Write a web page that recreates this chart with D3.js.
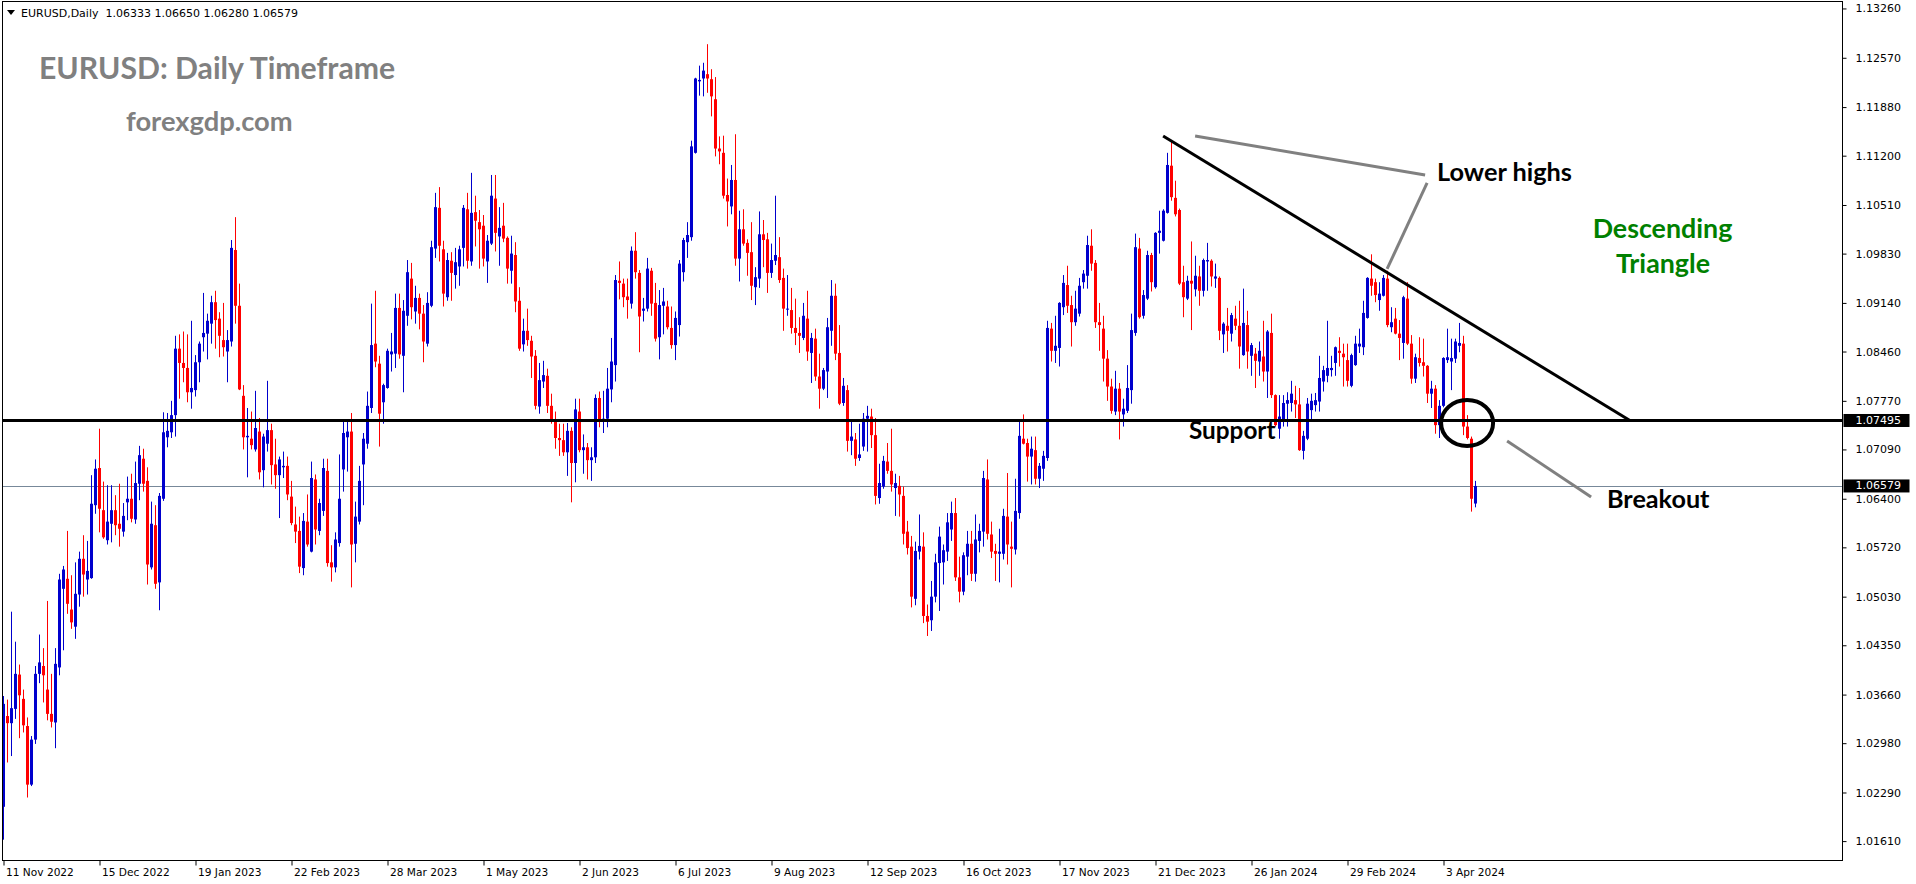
<!DOCTYPE html>
<html><head><meta charset="utf-8">
<script src="https://cdn.jsdelivr.net/npm/d3@7"></script>
<style>html,body{margin:0;padding:0;background:#fff;overflow:hidden}</style>
</head><body><svg id="c" width="1916" height="884"></svg>
<script>
// ---------------- DATA (EURUSD Daily) ----------------
const opens=[1.0209,1.0336,1.0326,1.0346,1.0394,1.0360,1.0322,1.0240,1.0303,1.0395,
1.0406,1.0373,1.0339,1.0327,1.0404,1.0514,1.0528,1.0485,1.0461,1.0506,
1.0556,1.0527,1.0529,1.0631,1.0683,1.0624,1.0582,1.0605,1.0624,1.0605,
1.0594,1.0635,1.0640,1.0611,1.0661,1.0696,1.0665,1.0544,1.0603,1.0523,
1.0640,1.0726,1.0733,1.0757,1.0850,1.0830,1.0823,1.0789,1.0792,1.0831,
1.0866,1.0871,1.0885,1.0915,1.0892,1.0862,1.0846,1.0860,1.0988,1.0910,
1.0784,1.0726,1.0724,1.0709,1.0734,1.0680,1.0717,1.0736,1.0688,1.0673,
1.0684,1.0686,1.0643,1.0604,1.0595,1.0543,1.0608,1.0566,1.0667,1.0595,
1.0623,1.0679,1.0551,1.0544,1.0578,1.0681,1.0726,1.0734,1.0577,1.0608,
1.0688,1.0717,1.0767,1.0857,1.0829,1.0775,1.0795,1.0842,1.0843,1.0907,
1.0840,1.0896,1.0948,1.0902,1.0921,1.0899,1.0857,1.0910,1.0990,1.1047,
1.0989,1.0922,1.0973,1.0953,1.0965,1.0991,1.1045,1.0972,1.1041,1.1027,
1.1022,1.0972,1.0997,1.1060,1.1007,1.1022,1.1005,1.0959,1.0981,1.0917,
1.0856,1.0875,1.0861,1.0840,1.0769,1.0804,1.0812,1.0770,1.0750,1.0725,
1.0722,1.0705,1.0735,1.0690,1.0762,1.0708,1.0712,1.0694,1.0698,1.0781,
1.0749,1.0752,1.0793,1.0827,1.0945,1.0941,1.0923,1.0913,1.0987,1.0956,
1.0903,1.0906,1.0959,1.0914,1.0866,1.0910,1.0909,1.0879,1.0855,1.0883,
1.0957,1.0999,1.1006,1.1124,1.1224,1.1228,1.1234,1.1227,1.1199,1.1130,
1.1124,1.1065,1.1049,1.1086,1.0976,1.1017,1.0998,1.0985,1.0936,1.0948,
1.1010,1.1003,1.0956,1.0973,1.0978,1.0949,1.0905,1.0904,1.0879,1.0872,
1.0865,1.0892,1.0844,1.0864,1.0811,1.0794,1.0818,1.0875,1.0924,1.0844,
1.0774,1.0792,1.0721,1.0723,1.0697,1.0713,1.0752,1.0755,1.0729,1.0641,
1.0657,1.0692,1.0679,1.0655,1.0658,1.0644,1.0594,1.0573,1.0500,1.0566,
1.0573,1.0476,1.0470,1.0503,1.0550,1.0551,1.0566,1.0597,1.0620,1.0530,
1.0510,1.0559,1.0577,1.0535,1.0581,1.0594,1.0667,1.0590,1.0567,1.0563,
1.0563,1.0615,1.0573,1.0569,1.0620,1.0724,1.0718,1.0699,1.0708,1.0668,
1.0682,1.0697,1.0878,1.0847,1.0851,1.0908,1.0939,1.0911,1.0887,1.0899,
1.0943,1.0952,1.0994,1.0970,1.0887,1.0878,1.0836,1.0797,1.0762,1.0794,
1.0758,1.0763,1.0792,1.0872,1.0990,1.0896,1.0920,1.0981,1.0936,1.1012,
1.1001,1.1040,1.1106,1.1061,1.1044,1.0943,1.0920,1.0945,1.0933,1.0951,
1.0931,1.0972,1.0973,1.0948,1.0949,1.0870,1.0882,1.0871,1.0892,1.0882,
1.0841,1.0883,1.0840,1.0843,1.0832,1.0839,1.0818,1.0872,1.0785,1.0738,
1.0748,1.0773,1.0774,1.0778,1.0772,1.0707,1.0724,1.0764,1.0771,1.0776,
1.0804,1.0812,1.0820,1.0830,1.0847,1.0843,1.0834,1.0798,1.0827,1.0853,
1.0852,1.0893,1.0948,1.0943,1.0918,1.0924,1.0948,1.0880,1.0892,1.0871,
1.0858,1.0920,1.0857,1.0808,1.0837,1.0831,1.0826,1.0787,1.0794,1.0743,
1.0770,1.0834,1.0832,1.0836,1.0854,1.0857,1.0741,1.0724,1.06333];

const highs=[1.0364,1.0359,1.0482,1.0440,1.0408,1.0373,1.0334,1.0308,1.0406,1.0450,
1.0431,1.0497,1.0395,1.0431,1.0535,1.0546,1.0595,1.0533,1.0551,1.0566,
1.0589,1.0581,1.0673,1.0695,1.0738,1.0664,1.0659,1.0659,1.0645,1.0661,
1.0634,1.0671,1.0675,1.0692,1.0714,1.0710,1.0684,1.0636,1.0631,1.0648,
1.0761,1.0760,1.0777,1.0868,1.0870,1.0874,1.0870,1.0889,1.0841,1.0860,
1.0928,1.0899,1.0924,1.0931,1.0901,1.0914,1.0876,1.1002,1.1034,1.0941,
1.0799,1.0767,1.0762,1.0791,1.0753,1.0731,1.0805,1.0745,1.0724,1.0699,
1.0706,1.0699,1.0665,1.0629,1.0615,1.0620,1.0646,1.0692,1.0674,1.0640,
1.0696,1.0696,1.0575,1.0593,1.0702,1.0750,1.0750,1.0760,1.0636,1.0686,
1.0732,1.0790,1.0913,1.0931,1.0840,1.0801,1.0850,1.0872,1.0927,1.0927,
1.0918,1.0974,1.0970,1.0938,1.0927,1.0911,1.0929,1.1001,1.1068,1.1076,
1.1001,1.0984,1.0985,1.0991,1.0994,1.1051,1.1068,1.1096,1.1064,1.1044,
1.1037,1.1009,1.1093,1.1093,1.1048,1.1054,1.1007,1.1008,1.0999,1.0936,
1.0892,1.0906,1.0868,1.0848,1.0830,1.0833,1.0822,1.0787,1.0762,1.0745,
1.0745,1.0746,1.0740,1.0780,1.0780,1.0730,1.0718,1.0712,1.0786,1.0790,
1.0791,1.0823,1.0865,1.0953,1.0972,1.0948,1.0948,1.0993,1.1013,1.0960,
1.0921,1.0977,1.0963,1.0942,1.0932,1.0935,1.0917,1.0909,1.0902,1.0974,
1.1005,1.1027,1.1141,1.1229,1.1246,1.1250,1.1276,1.1241,1.1230,1.1147,
1.1148,1.1088,1.1107,1.1150,1.1043,1.1045,1.1003,1.1027,1.0964,1.1042,
1.1030,1.1012,1.0997,1.1064,1.1006,1.0962,1.0953,1.0935,1.0920,1.0894,
1.0914,1.0931,1.0872,1.0878,1.0843,1.0823,1.0893,1.0946,1.0941,1.0883,
1.0809,1.0799,1.0749,1.0732,1.0745,1.0760,1.0770,1.0766,1.0753,1.0689,
1.0700,1.0718,1.0738,1.0675,1.0672,1.0657,1.0609,1.0588,1.0580,1.0618,
1.0593,1.0492,1.0525,1.0563,1.0601,1.0576,1.0620,1.0636,1.0641,1.0559,
1.0565,1.0595,1.0595,1.0618,1.0605,1.0679,1.0695,1.0608,1.0577,1.0598,
1.0626,1.0676,1.0608,1.0668,1.0749,1.0758,1.0724,1.0727,1.0727,1.0690,
1.0707,1.0889,1.0886,1.0896,1.0915,1.0953,1.0966,1.0924,1.0931,1.0949,
1.0960,1.1008,1.1017,1.0974,1.0914,1.0896,1.0848,1.0808,1.0819,1.0802,
1.0780,1.0827,1.0899,1.1011,1.1005,1.0932,1.0987,1.0984,1.1013,1.1043,
1.1045,1.1124,1.1139,1.1085,1.1046,1.0966,1.0952,1.1000,1.0980,1.0966,
1.0976,1.0998,1.0975,1.0969,1.0951,1.0887,1.0907,1.0900,1.0910,1.0917,
1.0934,1.0903,1.0858,1.0851,1.0860,1.0889,1.0876,1.0899,1.0786,1.0785,
1.0785,1.0789,1.0805,1.0798,1.0795,1.0735,1.0781,1.0787,1.0788,1.0840,
1.0826,1.0889,1.0840,1.0853,1.0866,1.0857,1.0857,1.0843,1.0868,1.0878,
1.0917,1.0950,1.0982,1.0948,1.0943,1.0953,1.0959,1.0908,1.0907,1.0890,
1.0924,1.0943,1.0869,1.0843,1.0866,1.0864,1.0827,1.0805,1.0799,1.0778,
1.0838,1.0878,1.0864,1.0864,1.0886,1.0868,1.0757,1.0727,1.06650];

const lows=[1.0163,1.0271,1.0280,1.0332,1.0305,1.0313,1.0222,1.0238,1.0297,1.0382,
1.0355,1.0330,1.0320,1.0291,1.0393,1.0428,1.0479,1.0458,1.0444,1.0489,
1.0503,1.0506,1.0528,1.0619,1.0593,1.0584,1.0576,1.0579,1.0589,1.0573,
1.0587,1.0610,1.0607,1.0605,1.0638,1.0650,1.0520,1.0541,1.0514,1.0484,
1.0637,1.0712,1.0725,1.0727,1.0780,1.0803,1.0775,1.0766,1.0783,1.0803,
1.0846,1.0835,1.0857,1.0850,1.0838,1.0839,1.0803,1.0853,1.0885,1.0792,
1.0709,1.0670,1.0709,1.0706,1.0667,1.0656,1.0706,1.0660,1.0654,1.0613,
1.0669,1.0638,1.0603,1.0578,1.0536,1.0533,1.0573,1.0565,1.0576,1.0589,
1.0616,1.0545,1.0524,1.0537,1.0573,1.0650,1.0678,1.0516,1.0551,1.0604,
1.0631,1.0710,1.0760,1.0824,1.0713,1.0745,1.0794,1.0818,1.0823,1.0836,
1.0789,1.0882,1.0891,1.0885,1.0877,1.0831,1.0853,1.0908,1.0977,1.0972,
1.0909,1.0917,1.0917,1.0934,1.0938,1.0965,1.0962,1.0966,1.0993,1.0962,
1.0965,1.0942,1.0995,1.0986,1.0966,1.0999,1.0941,1.0941,1.0901,1.0847,
1.0846,1.0854,1.0809,1.0765,1.0759,1.0795,1.0760,1.0745,1.0710,1.0700,
1.0700,1.0672,1.0635,1.0663,1.0705,1.0675,1.0667,1.0665,1.0690,1.0740,
1.0732,1.0740,1.0775,1.0804,1.0919,1.0908,1.0892,1.0906,1.0948,1.0845,
1.0888,1.0902,1.0896,1.0860,1.0835,1.0870,1.0877,1.0850,1.0834,1.0867,
1.0944,1.0977,1.1001,1.1123,1.1204,1.1203,1.1208,1.1175,1.1119,1.1108,
1.1060,1.1021,1.1038,1.0966,1.0944,1.0994,1.0952,1.0918,1.0911,1.0935,
1.0964,1.0928,1.0949,1.0967,1.0942,1.0875,1.0896,1.0871,1.0855,1.0844,
1.0862,1.0833,1.0802,1.0805,1.0766,1.0792,1.0781,1.0854,1.0834,1.0771,
1.0770,1.0706,1.0701,1.0686,1.0693,1.0707,1.0706,1.0711,1.0632,1.0633,
1.0654,1.0675,1.0650,1.0616,1.0615,1.0576,1.0562,1.0488,1.0491,1.0555,
1.0466,1.0448,1.0455,1.0495,1.0483,1.0520,1.0553,1.0581,1.0525,1.0495,
1.0505,1.0533,1.0525,1.0524,1.0565,1.0573,1.0583,1.0557,1.0525,1.0523,
1.0555,1.0548,1.0516,1.0562,1.0612,1.0716,1.0664,1.0660,1.0660,1.0655,
1.0665,1.0693,1.0832,1.0830,1.0825,1.0897,1.0900,1.0853,1.0882,1.0895,
1.0934,1.0934,1.0959,1.0879,1.0847,1.0804,1.0777,1.0759,1.0757,1.0723,
1.0741,1.0760,1.0773,1.0868,1.0892,1.0892,1.0918,1.0930,1.0934,1.0983,
1.1000,1.1039,1.1057,1.1035,1.0939,1.0894,1.0918,1.0876,1.0923,1.0910,
1.0923,1.0931,1.0937,1.0935,1.0862,1.0844,1.0846,1.0860,1.0876,1.0822,
1.0840,1.0822,1.0812,1.0795,1.0812,1.0804,1.0781,1.0781,1.0741,1.0724,
1.0741,1.0741,1.0762,1.0753,1.0707,1.0695,1.0722,1.0750,1.0762,1.0762,
1.0790,1.0803,1.0811,1.0812,1.0825,1.0797,1.0797,1.0796,1.0826,1.0844,
1.0841,1.0892,1.0924,1.0915,1.0903,1.0923,1.0880,1.0873,1.0870,1.0834,
1.0836,1.0855,1.0801,1.0802,1.0825,1.0811,1.0774,1.0767,1.0731,1.0725,
1.0768,1.0830,1.0792,1.0830,1.0845,1.0729,1.0723,1.0622,1.06280];

const closes=[1.0353,1.0326,1.0347,1.0395,1.0365,1.0323,1.0240,1.0303,1.0395,1.0411,
1.0393,1.0339,1.0328,1.0409,1.0527,1.0541,1.0493,1.0467,1.0507,1.0556,
1.0534,1.0539,1.0633,1.0682,1.0626,1.0586,1.0608,1.0624,1.0603,1.0598,
1.0616,1.0640,1.0612,1.0662,1.0701,1.0661,1.0548,1.0605,1.0521,1.0644,
1.0733,1.0735,1.0757,1.0850,1.0830,1.0823,1.0789,1.0795,1.0831,1.0857,
1.0872,1.0889,1.0915,1.0890,1.0868,1.0852,1.0862,1.0991,1.0910,1.0793,
1.0726,1.0728,1.0715,1.0739,1.0677,1.0727,1.0736,1.0687,1.0673,1.0695,
1.0686,1.0646,1.0606,1.0594,1.0545,1.0609,1.0576,1.0669,1.0597,1.0634,
1.0683,1.0550,1.0544,1.0583,1.0640,1.0732,1.0734,1.0576,1.0615,1.0665,
1.0724,1.0770,1.0855,1.0832,1.0759,1.0799,1.0847,1.0846,1.0907,1.0842,
1.0903,1.0957,1.0908,1.0921,1.0899,1.0860,1.0914,1.0992,1.1048,1.0994,
1.0927,1.0974,1.0956,1.0971,1.0989,1.1047,1.0973,1.1040,1.1029,1.1017,
1.0976,1.1001,1.1064,1.1012,1.1019,1.1004,1.0962,1.0983,1.0916,1.0850,
1.0875,1.0862,1.0839,1.0770,1.0806,1.0813,1.0770,1.0750,1.0725,1.0722,
1.0705,1.0735,1.0690,1.0765,1.0708,1.0712,1.0694,1.0698,1.0781,1.0749,
1.0752,1.0794,1.0832,1.0946,1.0942,1.0922,1.0918,1.0987,1.0957,1.0895,
1.0906,1.0962,1.0913,1.0864,1.0911,1.0916,1.0880,1.0855,1.0893,1.0969,
1.1002,1.1009,1.1133,1.1228,1.1226,1.1239,1.1228,1.1203,1.1130,1.1126,
1.1064,1.1056,1.1086,1.0976,1.1017,1.0997,1.0984,1.0938,1.0950,1.1010,
1.1002,1.0956,1.0974,1.0981,1.0946,1.0906,1.0906,1.0879,1.0872,1.0868,
1.0896,1.0846,1.0865,1.0811,1.0794,1.0820,1.0880,1.0924,1.0843,1.0773,
1.0798,1.0721,1.0727,1.0696,1.0702,1.0752,1.0756,1.0729,1.0644,1.0662,
1.0693,1.0679,1.0660,1.0662,1.0646,1.0591,1.0571,1.0503,1.0567,1.0574,
1.0476,1.0468,1.0503,1.0551,1.0587,1.0568,1.0607,1.0620,1.0530,1.0510,
1.0561,1.0577,1.0535,1.0583,1.0595,1.0669,1.0591,1.0566,1.0563,1.0566,
1.0616,1.0576,1.0570,1.0623,1.0728,1.0717,1.0699,1.0710,1.0668,1.0686,
1.0700,1.0879,1.0847,1.0854,1.0914,1.0942,1.0910,1.0887,1.0906,1.0938,
1.0955,1.0995,1.0969,1.0887,1.0883,1.0836,1.0797,1.0763,1.0794,1.0762,
1.0766,1.0795,1.0876,1.0992,1.0894,1.0925,1.0981,1.0943,1.1012,1.1015,
1.1043,1.1107,1.1062,1.1038,1.0941,1.0922,1.0945,1.0941,1.0952,1.0931,
1.0974,1.0974,1.0951,1.0951,1.0875,1.0885,1.0875,1.0897,1.0882,1.0853,
1.0886,1.0846,1.0855,1.0833,1.0847,1.0818,1.0874,1.0785,1.0743,1.0755,
1.0774,1.0778,1.0787,1.0772,1.0708,1.0728,1.0773,1.0777,1.0778,1.0809,
1.0820,1.0823,1.0823,1.0852,1.0844,1.0838,1.0805,1.0841,1.0857,1.0857,
1.0900,1.0949,1.0938,1.0925,1.0927,1.0949,1.0883,1.0887,1.0871,1.0865,
1.0922,1.0857,1.0808,1.0838,1.0830,1.0826,1.0787,1.0794,1.0743,1.0770,
1.0837,1.0838,1.0837,1.0860,1.0858,1.0741,1.0725,1.0640,1.06579];

const timeTickIndex=[0,24,48,72,96,120,144,168,192,216,240,264,288,312,336,360];
const timeTickLabels=["11 Nov 2022","15 Dec 2022","19 Jan 2023","22 Feb 2023","28 Mar 2023","1 May 2023","2 Jun 2023","6 Jul 2023","9 Aug 2023","12 Sep 2023","16 Oct 2023","17 Nov 2023","21 Dec 2023","26 Jan 2024","29 Feb 2024","3 Apr 2024"];
const priceTicks=[1.13260,1.12570,1.11880,1.11200,1.10510,1.09830,1.09140,1.08460,1.07770,1.07090,1.06400,1.05720,1.05030,1.04350,1.03660,1.02980,1.02290,1.01610];
const supportLevel=1.07495;
const bidPrice=1.06579;
const headerText="EURUSD,Daily  1.06333 1.06650 1.06280 1.06579";
// annotation anchors in data space [bar index, price]
const trendLine=[[289.9,1.11476],[406.6,1.07495]];
const pointerHighs1=[[297.9,1.11476],[355.4,1.10930]];
const pointerHighs2=[[355.9,1.10818],[345.9,1.09615]];
const pointerBreakout=[[375.9,1.07209],[396.9,1.06425]];
const breakoutCircle=[365.9,1.07460];

// ---------------- DRAWING ----------------
const W=1916,H=884;
const F={l:2.5,t:1.5,r:1842.5,b:860.5};
const svg=d3.select('#c');
svg.append('rect').attr('width',W).attr('height',H).attr('fill','#fff');

const x=d3.scaleLinear().domain([0,368]).range([3.5,1475.5]);
const y=d3.scaleLinear().domain([1.01610,1.13260]).range([841.1,8.45]);

svg.append('defs').append('clipPath').attr('id','plot')
  .append('rect').attr('x',F.l).attr('y',F.t).attr('width',F.r-F.l).attr('height',F.b-F.t);
const plot=svg.append('g').attr('clip-path','url(#plot)');

// bid line (behind candles)
plot.append('line').attr('x1',F.l).attr('x2',F.r).attr('y1',Math.round(y(bidPrice))+0.5).attr('y2',Math.round(y(bidPrice))+0.5)
  .attr('stroke','#778899').attr('stroke-width',1);

const bars=d3.range(closes.length).map(i=>({i,o:opens[i],h:highs[i],l:lows[i],c:closes[i]}));
const UP='#0000cd',DN='#ff0000';
plot.append('g').selectAll('rect').data(bars).join('rect')
  .attr('x',d=>x(d.i)-0.5).attr('width',1)
  .attr('y',d=>y(d.h)).attr('height',d=>Math.max(1,y(d.l)-y(d.h)))
  .attr('fill',d=>d.c>=d.o?UP:DN);
plot.append('g').selectAll('rect').data(bars).join('rect')
  .attr('x',d=>x(d.i)-1.5).attr('width',3)
  .attr('y',d=>y(Math.max(d.o,d.c))).attr('height',d=>Math.max(1,Math.abs(y(d.o)-y(d.c))))
  .attr('fill',d=>d.c>=d.o?UP:DN);

// support line
plot.append('line').attr('x1',F.l).attr('x2',F.r).attr('y1',y(supportLevel)).attr('y2',y(supportLevel))
  .attr('stroke','#000').attr('stroke-width',3);

// trend line & pointers
const seg=(pts,color,w)=>plot.append('line')
  .attr('x1',x(pts[0][0])).attr('y1',y(pts[0][1])).attr('x2',x(pts[1][0])).attr('y2',y(pts[1][1]))
  .attr('stroke',color).attr('stroke-width',w);
seg(trendLine,'#000',3);
seg(pointerHighs1,'#808080',3);
seg(pointerHighs2,'#808080',3);
seg(pointerBreakout,'#808080',3);
plot.append('ellipse').attr('cx',x(breakoutCircle[0])).attr('cy',y(breakoutCircle[1]))
  .attr('rx',26).attr('ry',23).attr('fill','none').attr('stroke','#000').attr('stroke-width',4);

// texts
const ann=(t,px,py,size,color,anchor)=>svg.append('text').text(t).attr('x',px).attr('y',py)
  .attr('font-family','Lato, "Open Sans", sans-serif').attr('font-weight',700).attr('font-size',size)
  .attr('fill',color).attr('text-anchor',anchor||'start');
ann('EURUSD: Daily Timeframe',39,79,30.2,'#808080');
ann('forexgdp.com',126,131,27.3,'#808080');
ann('Lower highs',1437,181,25.3,'#000');
ann('Descending',1662.5,238,26.8,'#008000','middle');
ann('Triangle',1663,273,26.8,'#008000','middle');
ann('Support',1189,439,24.3,'#000');
ann('Breakout',1607,508,25.2,'#000');

// header
svg.append('path').attr('d','M7,10 L15,10 L11,15 Z').attr('fill','#000');
svg.append('text').attr('x',21).attr('y',17).attr('xml:space','preserve').style('white-space','pre')
  .attr('font-family','"DejaVu Sans", sans-serif').attr('font-size',11).attr('fill','#000').text(headerText);

// frame
svg.append('rect').attr('x',F.l).attr('y',F.t).attr('width',F.r-F.l).attr('height',F.b-F.t)
  .attr('fill','none').attr('stroke','#000').attr('stroke-width',1);

// price axis
const axR=d3.axisRight(y).tickValues(priceTicks).tickSize(4).tickPadding(9).tickFormat(d3.format('.5f'));
const gR=svg.append('g').attr('transform',`translate(${F.r},0)`).call(axR);
gR.select('.domain').remove();
gR.selectAll('text').attr('font-family','"DejaVu Sans", sans-serif').attr('font-size',11).attr('fill','#000');
gR.selectAll('line').attr('stroke','#000');

// highlighted price labels
[[supportLevel],[bidPrice]].forEach(([v])=>{
  const g=svg.append('g').attr('transform',`translate(${F.r},${y(v)})`);
  g.append('rect').attr('x',1).attr('y',-6.5).attr('width',66).attr('height',13).attr('fill','#000');
  g.append('text').attr('x',13).attr('dy','0.32em').text(d3.format('.5f')(v))
    .attr('font-family','"DejaVu Sans", sans-serif').attr('font-size',11).attr('fill','#fff');
});

// time axis
const axB=d3.axisBottom(x).tickValues(timeTickIndex).tickSize(5).tickFormat((d,k)=>timeTickLabels[k]);
const gB=svg.append('g').attr('transform',`translate(0,${F.b})`).call(axB);
gB.select('.domain').remove();
gB.selectAll('line').attr('stroke','#000');
gB.selectAll('text').attr('text-anchor','start').attr('x',2).attr('y',8).attr('dy','0.71em')
  .attr('font-family','"DejaVu Sans", sans-serif').attr('font-size',10.6).attr('fill','#000');
</script></body></html>
